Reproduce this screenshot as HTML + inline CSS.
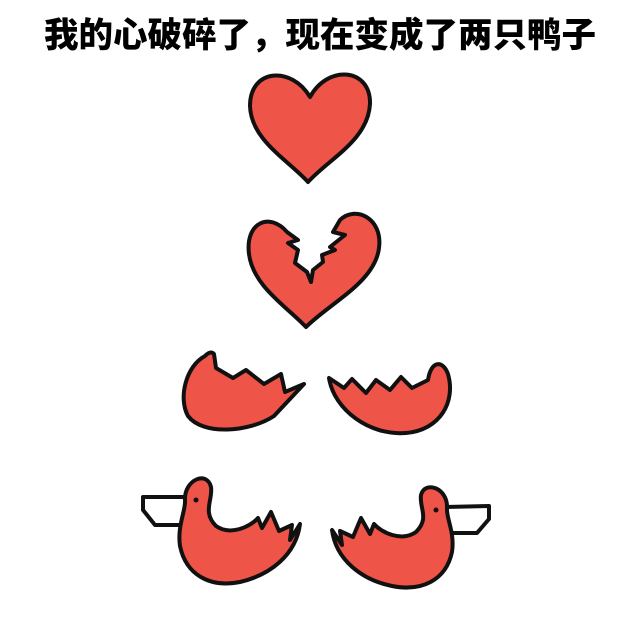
<!DOCTYPE html>
<html><head><meta charset="utf-8">
<style>
html,body{margin:0;padding:0;background:#fff;}
#root{position:relative;width:640px;height:640px;overflow:hidden;background:#fff;}
#title{position:absolute;left:44px;top:12px;width:560px;font-family:"Liberation Sans","Noto Sans CJK SC",sans-serif;font-weight:900;font-size:34.5px;line-height:48px;color:#000;white-space:nowrap;letter-spacing:0px;}
svg{position:absolute;left:0;top:0;}
</style></head>
<body>
<div id="root">
<div id="title">我的心破碎了，现在变成了两只鸭子</div>
<svg width="640" height="640" viewBox="0 0 640 640">
<g stroke="#111" stroke-width="4" stroke-linejoin="round" fill="#ee5448">
 <path d="M310,97 C292,66 250,68 250,106 C251,140 288,160 308,182 C330,158 368,140 370,104 C371,68 328,64 310,97 Z"/>
 <path d="M287,232 C270,212 245,222 249,254 C253,286 286,306 306,327 C330,303 375,282 379,248 C383,218 355,205 340,220 L333,232 L345,235 L330,247 L335,250 L322,255 L323,262 L313,270 L311,282 L307,272 L295,263 L298,250 L288,243 L298,240 Z"/>
 <path d="M205,356 C186,366 178,398 188,416 C203,436 250,432 274,416 L304,384 L285,392 L281,374 L264,384 L246,370 L233,378 L216,368 L214,354 C211,351 208,353 205,356 Z"/>
 <path d="M329,378 C334,410 370,436 406,433 C440,430 456,402 448,374 C443,360 431,360 428,380 L412,388 L401,377 L390,390 L376,380 L366,393 L352,379 L344,388 Z"/>
 <g>
  <path fill="#fff" d="M187,497 L143,497 L143,510 L155,525 L183,525"/>
  <path d="M185,500 C184,480 207,470 211,487 C213,500 202,512 216,526 C230,536 250,527 258,518 L262,528 L271,512 L279,531 L292,525 L290,540 L300,524 C296,555 270,575 240,582 C210,588 186,575 180,546 C177,526 186,510 185,500 Z"/>
  <circle cx="196" cy="500" r="2.5" fill="#111" stroke="none"/>
 </g>
 <g transform="translate(632,0) scale(-1,1)">
  <path fill="#fff" d="M187,507 L143,506 L143,519 L155,533 L183,533"/>
  <path d="M185,508 C184,488 207,480 211,495 C213,508 202,518 216,532 C230,542 250,533 258,524 L262,534 L271,518 L279,537 L292,531 L290,545 L300,530 C296,560 270,580 240,586 C210,592 186,580 180,552 C177,532 186,518 185,508 Z"/>
  <circle cx="196" cy="510" r="2.5" fill="#111" stroke="none"/>
 </g>
</g>
</svg>
</div>
</body></html>
